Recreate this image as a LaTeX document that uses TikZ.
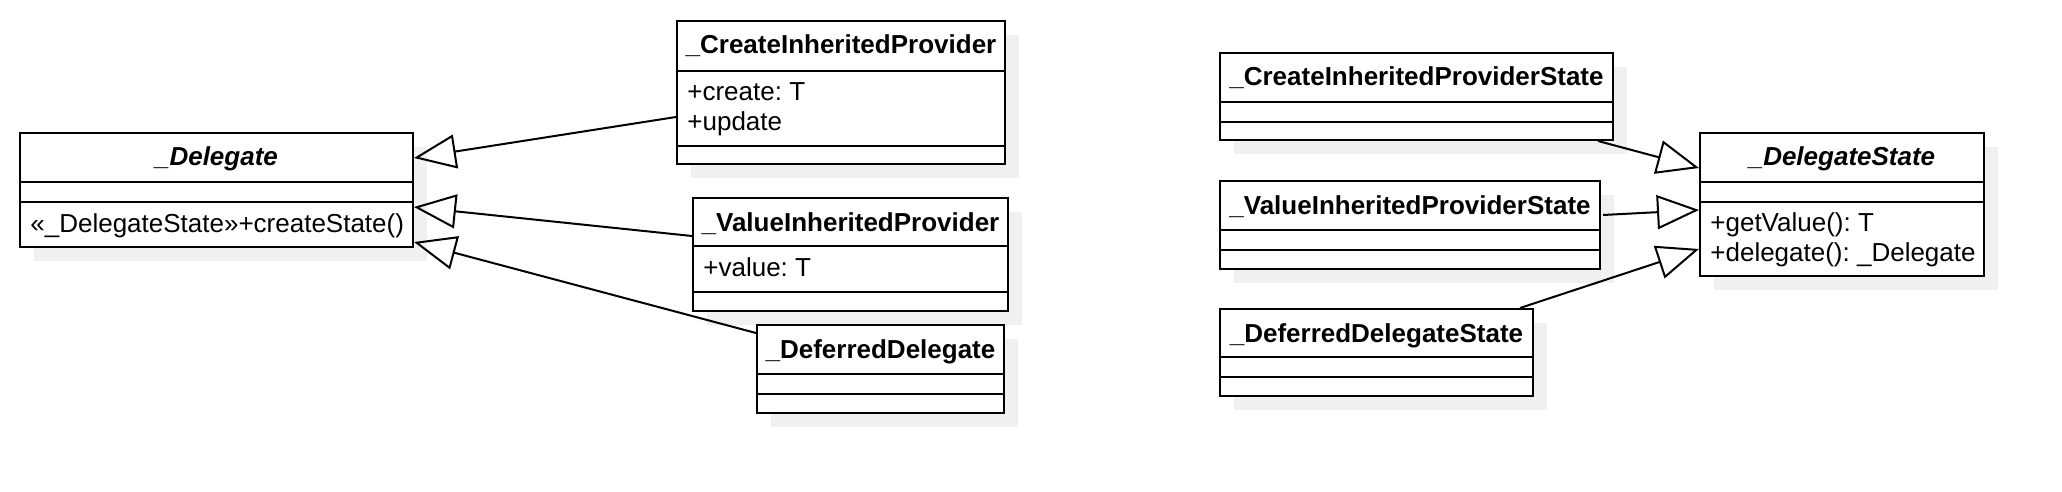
\documentclass[tikz,border=0pt]{standalone}
\usepackage{fontspec}
\setmainfont{Liberation Sans}
\frenchspacing
\usepackage{tikz}
\usetikzlibrary{calc,arrows.meta,shadows}
\tikzset{
class/.style={rectangle,draw=black,fill=white,line width=1pt,inner sep=0pt,anchor=north west,
  general shadow={fill=black!6,shadow xshift=7pt,shadow yshift=-7pt}},
classname/.style={anchor=base,inner sep=0pt,font=\fontsize{13}{15}\selectfont\bfseries},
abstractname/.style={anchor=base,inner sep=0pt,font=\fontsize{13}{15}\selectfont\bfseries\itshape},
member/.style={anchor=base west,inner sep=0pt,font=\fontsize{13}{15}\selectfont},
sep/.style={line width=1pt},
inherit/.style={line width=1pt,-{Triangle[open,length=21pt,width=17pt]}},
}

\begin{document}
\begin{tikzpicture}[x=0.5pt,y=-0.5pt]
\useasboundingbox (0,0) rectangle (2062,492);

% left: providers
\node[class,minimum width=196.5pt,minimum height=57pt] (del) at (19,132) {};
\node[abstractname] (del-name) at ($(del.north)+(0,34)$) {\_Delegate};
\node[member] (del-op) at ($(del.north west)+(11,100)$) {«\_DelegateState»+createState()};
\draw[sep] ($(del.north west)+(0,50)$) -- ($(del.north east)+(0,50)$);
\draw[sep] ($(del.north west)+(0,70)$) -- ($(del.north east)+(0,70)$);

\node[class,minimum width=164pt,minimum height=71.5pt] (cip) at (676,20) {};
\node[classname] (cip-name) at ($(cip.north)+(0,34)$) {\_CreateInheritedProvider};
\node[member] (cip-create) at ($(cip.north west)+(11,81)$) {+create: T};
\node[member] (cip-update) at ($(cip.north west)+(11,111)$) {+update};
\draw[sep] ($(cip.north west)+(0,51)$) -- ($(cip.north east)+(0,51)$);
\draw[sep] ($(cip.north west)+(0,126)$) -- ($(cip.north east)+(0,126)$);

\node[class,minimum width=157.5pt,minimum height=56.5pt] (vip) at (692,197) {};
\node[classname] (vip-name) at ($(vip.north)+(0,34)$) {\_ValueInheritedProvider};
\node[member] (vip-value) at ($(vip.north west)+(11,79)$) {+value: T};
\draw[sep] ($(vip.north west)+(0,49)$) -- ($(vip.north east)+(0,49)$);
\draw[sep] ($(vip.north west)+(0,95)$) -- ($(vip.north east)+(0,95)$);

\node[class,minimum width=123.5pt,minimum height=44pt] (dd) at (756,324) {};
\node[classname] (dd-name) at ($(dd.north)+(0,34)$) {\_DeferredDelegate};
\draw[sep] ($(dd.north west)+(0,50)$) -- ($(dd.north east)+(0,50)$);
\draw[sep] ($(dd.north west)+(0,70)$) -- ($(dd.north east)+(0,70)$);

% right: states
\node[class,minimum width=196.5pt,minimum height=43.5pt] (cips) at (1219,52) {};
\node[classname] (cips-name) at ($(cips.north)+(0,34)$) {\_CreateInheritedProviderState};
\draw[sep] ($(cips.north west)+(0,50)$) -- ($(cips.north east)+(0,50)$);
\draw[sep] ($(cips.north west)+(0,70)$) -- ($(cips.north east)+(0,70)$);

\node[class,minimum width=190pt,minimum height=44pt] (vips) at (1219,180) {};
\node[classname] (vips-name) at ($(vips.north)+(0,34)$) {\_ValueInheritedProviderState};
\draw[sep] ($(vips.north west)+(0,50)$) -- ($(vips.north east)+(0,50)$);
\draw[sep] ($(vips.north west)+(0,70)$) -- ($(vips.north east)+(0,70)$);

\node[class,minimum width=156.5pt,minimum height=43.5pt] (dds) at (1219,308) {};
\node[classname] (dds-name) at ($(dds.north)+(0,34)$) {\_DeferredDelegateState};
\draw[sep] ($(dds.north west)+(0,49)$) -- ($(dds.north east)+(0,49)$);
\draw[sep] ($(dds.north west)+(0,69)$) -- ($(dds.north east)+(0,69)$);

\node[class,minimum width=142pt,minimum height=71.5pt] (ds) at (1699,132) {};
\node[abstractname] (ds-name) at ($(ds.north)+(0,34)$) {\_DelegateState};
\node[member] (ds-getvalue) at ($(ds.north west)+(11,99)$) {+getValue(): T};
\node[member] (ds-delegate) at ($(ds.north west)+(11,129)$) {+delegate(): \_Delegate};
\draw[sep] ($(ds.north west)+(0,50)$) -- ($(ds.north east)+(0,50)$);
\draw[sep] ($(ds.north west)+(0,70)$) -- ($(ds.north east)+(0,70)$);

% inheritance
\draw[inherit] ($(cip.north west)+(0,97)$) -- ($(del.north east)+(0,26)$);
\draw[inherit] ($(vip.north west)+(0,39)$) -- ($(del.north east)+(0,75)$);
\draw[inherit] ($(dd.north west)+(0,9)$) -- ($(del.north east)+(0,110)$);
\draw[inherit] ($(cips.south east)+(-16,0)$) -- ($(ds.north west)+(0,36)$);
\draw[inherit] ($(vips.north east)+(2,35)$) -- ($(ds.north west)+(0,78)$);
\draw[inherit] ($(dds.north east)+(-14,0)$) -- ($(ds.north west)+(0,117)$);
\end{tikzpicture}
\end{document}
